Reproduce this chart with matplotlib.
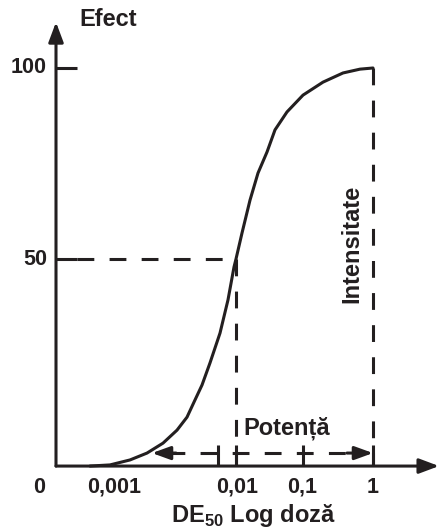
import matplotlib.pyplot as plt

plt.rcParams['font.family'] = ['Liberation Sans', 'DejaVu Sans']
plt.rcParams['mathtext.fontset'] = 'custom'
plt.rcParams['mathtext.rm'] = 'Liberation Sans:bold'

# dose-effect curve (x = position on log-dose axis, y = effect %)
curve_x = [34, 54, 74, 91, 107, 121, 131, 139, 146, 154, 164, 172, 178, 180,
           186, 194, 202, 211, 219, 231, 247, 267, 287, 304, 317]
curve_y = [-4.2, -3.9, -2.6, -0.8, 1.8, 5.2, 8.6, 13.1, 17.0, 22.8, 30.6, 39.3, 47.9, 50,
           56.8, 65.4, 72.5, 78.0, 83.8, 88.5, 92.9, 96.3, 98.7, 99.7, 100]

y_ticks = [100, 50]
y_labels = ['100', '50']
x_tick_pos = [-17, 58, 181, 246, 317]
x_labels = ['0', '0,001', '0,01', '0,1', '1']
x_marks = [162, 180, 247, 317]

ed50_x = 180
emax_x = 317
base = -4.2
pot_y = -0.8
pot_from = 96

ink = '#231f20'
lw = 2.2


def py(p):
    # effect value at a given pixel row of the original drawing
    return 100 - (p - 68) * 50 / 191


fig = plt.figure(figsize=(4.39, 5.31), dpi=100)
ax = fig.add_axes([0, 0, 1, 1])
ax.set_xlim(-56, 383)
ax.set_ylim(-21.2, 117.8)
ax.axis('off')

# axes with arrows
arr = dict(arrowstyle='-|>,head_length=1.2,head_width=0.45', lw=lw, color=ink,
           shrinkA=0, shrinkB=0)
ax.annotate('', xy=(0, 112), xytext=(0, base), arrowprops=arr)
ax.annotate('', xy=(383, base), xytext=(0, base), arrowprops=arr)

# y ticks
for v, lab in zip(y_ticks, y_labels):
    ax.plot([0, 21], [v, v], color=ink, lw=lw, solid_capstyle='butt')
    ax.text(-9, v, lab, ha='right', va='center', fontsize=15.5, fontweight='bold', color=ink)

# x labels
for p, lab in zip(x_tick_pos, x_labels):
    ax.text(p, py(487), lab, ha='center', va='center', fontsize=15.5, fontweight='bold',
            color=ink)

for p in x_marks:
    ax.plot([p, p], [base, 1.3], color=ink, lw=lw, solid_capstyle='butt')

# guide lines
dash = dict(color=ink, lw=lw, dashes=(5.5, 5), dash_capstyle='butt')
ax.plot([21, ed50_x], [50, 50], **dash)
ax.plot([ed50_x, ed50_x], [50, base], **dash)
ax.plot([emax_x, emax_x], [100, base], **dash)

# potency double arrow
ax.plot([pot_from + 16, emax_x - 18], [pot_y, pot_y], **dash)
small = dict(arrowstyle='-|>,head_length=1.1,head_width=0.4', lw=lw, color=ink,
             shrinkA=0, shrinkB=0)
ax.annotate('', xy=(pot_from, pot_y), xytext=(pot_from + 24, pot_y), arrowprops=small)
ax.annotate('', xy=(emax_x, pot_y), xytext=(emax_x - 26, pot_y), arrowprops=small)

# curve
ax.plot(curve_x, curve_y, color=ink, lw=lw, solid_joinstyle='round',
        solid_capstyle='round')

# texts
ax.text(23, py(20), 'Efect', ha='left', va='center', fontsize=17,
        fontweight='bold', color=ink)
ax.text(231, py(428), 'Potență', ha='center', va='center',
        fontsize=17, fontweight='bold', color=ink)
ax.text(296, py(244), 'Intensitate', ha='center', va='center',
        rotation=90, fontsize=17, fontweight='bold', color=ink)
ax.text(197, py(515), r'DE$_{\mathregular{50}}$ Log doză', ha='center',
        va='center', fontsize=17, fontweight='bold', color=ink)

fig.savefig('out.png', dpi=100)
